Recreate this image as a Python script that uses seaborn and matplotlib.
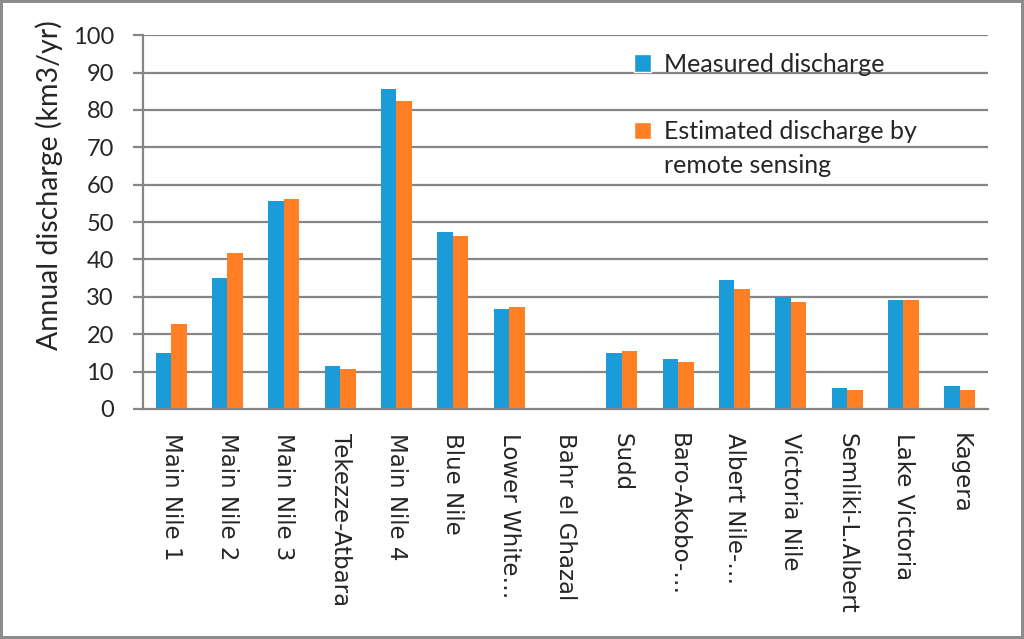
import numpy as np
import pandas as pd
import matplotlib
matplotlib.use('Agg')
import matplotlib.pyplot as plt
from matplotlib.patches import Patch
import seaborn as sns

# Values
basins = ['Main Nile 1', 'Main Nile 2', 'Main Nile 3', 'Tekezze-Atbara', 'Main Nile 4',
          'Blue Nile', 'Lower White\u2026', 'Bahr el Ghazal', 'Sudd', 'Baro-Akobo-\u2026',
          'Albert Nile-\u2026', 'Victoria Nile', 'Semliki-L.Albert', 'Lake Victoria', 'Kagera']
measured = [15.0, 35.1, 55.7, 11.5, 85.7, 47.4, 26.7, 0.0, 14.9, 13.3, 34.5, 29.9, 5.5, 29.1, 6.1]
estimated = [22.7, 41.6, 56.3, 10.7, 82.3, 46.3, 27.4, 0.0, 15.5, 12.6, 32.1, 28.5, 5.0, 29.1, 5.0]
series = ['Measured discharge', 'Estimated discharge by remote sensing']
colors = ['#1B9BD7', '#FF7F24']

df = pd.DataFrame({
    'Basin': basins * 2,
    'Discharge': measured + estimated,
    'Series': [series[0]] * len(basins) + [series[1]] * len(basins),
})

sns.set_style('white')
plt.rcParams['font.family'] = ['DejaVu Sans']
main_font = 'Lato'

fig = plt.figure(figsize=(10.24, 6.39), dpi=100)
fig.patch.set_edgecolor('#8c8c8c')
fig.patch.set_linewidth(3)
ax = fig.add_axes([0.1396, 0.36, 0.8252, 0.585])

grid_color = '#868686'
ax.set_axisbelow(True)
for y in range(10, 101, 10):
    ax.axhline(y, color=grid_color, lw=1.6, zorder=0)

sns.barplot(data=df, x='Basin', y='Discharge', hue='Series',
            palette=colors, saturation=1, width=0.55, gap=0,
            edgecolor='none', legend=False, ax=ax)

ax.set_ylim(0, 100)
ax.set_xlim(-0.5, len(basins) - 0.5)
ax.set_yticks(range(0, 101, 10))
ax.tick_params(axis='y', labelsize=17, length=7, width=1.6, color=grid_color,
               direction='out', pad=14, left=True, labelfontfamily=main_font)
ax.set_xticks(range(len(basins)))
ax.set_xticklabels(basins, rotation=270, va='top', ha='center')
ax.tick_params(axis='x', length=0, pad=17, labelsize=16.5)
ax.set_xticks(np.arange(-0.5, len(basins), 1), minor=True)
ax.tick_params(axis='x', which='minor', length=7, width=1.6, color=grid_color,
               direction='out')

for side in ['top', 'right']:
    ax.spines[side].set_visible(False)
for side in ['left', 'bottom']:
    ax.spines[side].set_color(grid_color)
    ax.spines[side].set_linewidth(1.6)

ax.set_xlabel('')
ax.set_ylabel('Annual discharge (km3/yr)', fontsize=20.5, family=main_font)
ax.yaxis.set_label_coords(-0.095, 0.6)

# legend: second label wraps onto a second line, so use a blank row for spacing
blank = Patch(facecolor='none', edgecolor='none')
handles = [Patch(facecolor=colors[0]), blank, Patch(facecolor=colors[1]), blank]
labels = ['Measured discharge', '', 'Estimated discharge by', 'remote sensing']
ax.legend(handles, labels, loc='upper left', bbox_to_anchor=(0.554, 1.013), frameon=False,
          prop={'family': main_font, 'size': 18}, handlelength=0.7, handleheight=0.7,
          handletextpad=0.5, labelspacing=0.43)

fig.savefig('out.png', dpi=100, edgecolor=fig.get_edgecolor())
